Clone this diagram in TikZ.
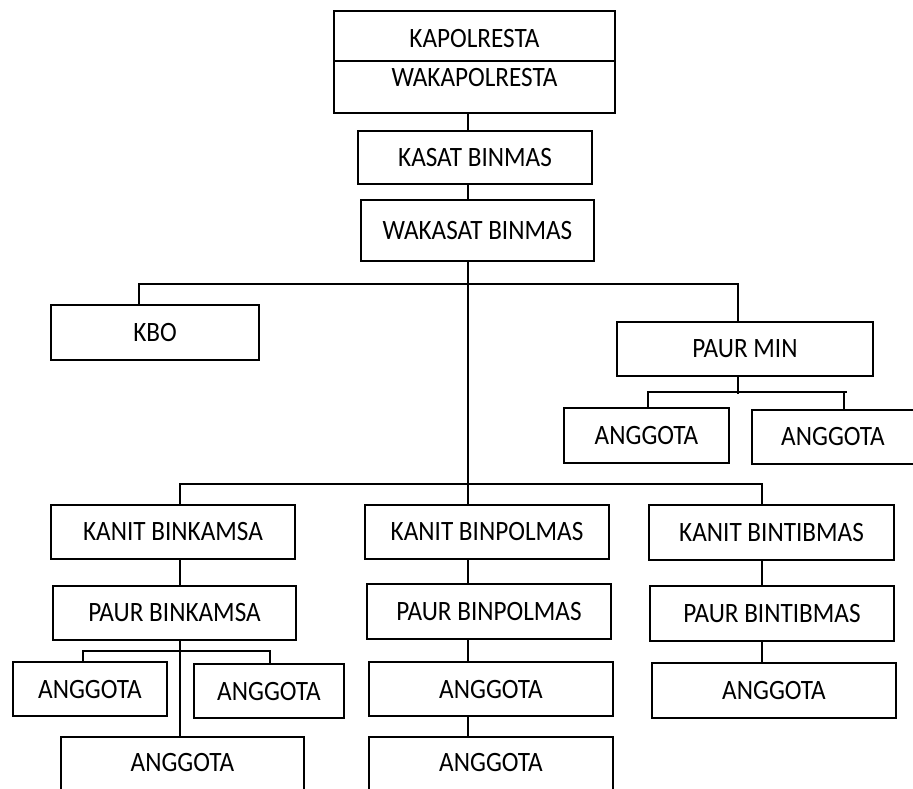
\documentclass[tikz,border=0pt]{standalone}
\usepackage{fontspec}
\setmainfont{Carlito}[FakeStretch=0.9]
\newcommand\bx[6]{\node[box, minimum width={(#3-#2)*1pt}, minimum height={(#5-#4)*1pt}] (#1) at ({(#2+#3)/2},{(#4+#5)/2}) {#6};}
\begin{document}
\begin{tikzpicture}[x=1pt,y=-1pt,
  box/.style={draw, line width=1.7pt, rectangle, inner sep=0pt, font=\fontsize{28}{30}\selectfont},
  lbl/.style={inner sep=0pt, font=\fontsize{28}{30}\selectfont},
  conn/.style={line width=1.7pt}]
\useasboundingbox (0,0) rectangle (913,788);
\fill[white] (0,0) rectangle (913,788);
\clip (0,0) rectangle (913,788);
% top box
\bx{kapol}{334}{615}{11}{113}{}
\node[lbl] (t1) at (474.5,39) {KAPOLRESTA};
\node[lbl] (t2) at (474.5,78) {WAKAPOLRESTA};
\coordinate (dv) at (0,61);
\draw[conn] (kapol.west |- dv) -- (kapol.east |- dv);
\bx{kasat}{358}{592}{131}{184}{KASAT BINMAS}
\bx{wakasat}{361}{594}{200}{261}{WAKASAT BINMAS}
\bx{kbo}{51}{259}{305}{360}{KBO}
\bx{paurmin}{617}{873}{322}{376}{PAUR MIN}
\bx{ang1}{564}{729}{408}{463}{ANGGOTA}
\bx{ang2}{752}{914}{410}{464}{ANGGOTA}
\bx{kanit1}{51}{295}{505}{559}{KANIT BINKAMSA}
\bx{kanit2}{365}{609}{505}{559}{KANIT BINPOLMAS}
\bx{kanit3}{649}{894}{505}{560}{KANIT BINTIBMAS}
\bx{paur1}{53}{296}{586}{640}{PAUR BINKAMSA}
\bx{paur2}{367}{611}{584}{639}{PAUR BINPOLMAS}
\bx{paur3}{650}{894}{586}{641}{PAUR BINTIBMAS}
\bx{a1L}{13}{167}{662}{716}{ANGGOTA}
\bx{a1R}{194}{344}{664}{718}{ANGGOTA}
\bx{a1B}{61}{304}{737}{805}{}
\node[lbl] (a1Bt) at (182.5,762) {ANGGOTA};
\bx{a2}{369}{613}{662}{716}{ANGGOTA}
\bx{a2B}{369}{613}{737}{805}{}
\node[lbl] (a2Bt) at (491,762) {ANGGOTA};
\bx{a3}{652}{896}{663}{718}{ANGGOTA}
% connectors
\coordinate (mx) at (468,0);
\draw[conn] (kapol.south -| mx) -- (kasat.north -| mx);
\draw[conn] (kasat.south -| mx) -- (wakasat.north -| mx);
\coordinate (hbmid) at (468,484);
\draw[conn] (wakasat.south -| mx) -- (hbmid);
\coordinate (haL) at (139,284);
\coordinate (haR) at (738,284);
\draw[conn] (kbo.north -| haL) -- (haL) -- (haR) -- (paurmin.north -| haR);
\coordinate (pmB) at (738,394);
\draw[conn] (paurmin.south -| pmB) -- (pmB);
\coordinate (hpL) at (648,392);
\coordinate (hpR) at (847,392);
\coordinate (hpD) at (844,392);
\draw[conn] (ang1.north -| hpL) -- (hpL) -- (hpR);
\draw[conn] (hpD) -- (ang2.north -| hpD);
\coordinate (hbL) at (180,484);
\coordinate (hbR) at (762,484);
\draw[conn] (kanit1.north -| hbL) -- (hbL) -- (hbR) -- (kanit3.north -| hbR);
\draw[conn] (hbmid) -- (kanit2.north -| hbmid);
\draw[conn] (kanit1.south -| hbL) -- (paur1.north -| hbL);
\draw[conn] (paur1.south -| hbL) -- (a1B.north -| hbL);
\coordinate (hsL) at (83,651);
\coordinate (hsR) at (270,651);
\draw[conn] (a1L.north -| hsL) -- (hsL) -- (hsR) -- (a1R.north -| hsR);
\draw[conn] (kanit2.south -| mx) -- (paur2.north -| mx);
\draw[conn] (paur2.south -| mx) -- (a2.north -| mx);
\draw[conn] (a2.south -| mx) -- (a2B.north -| mx);
\draw[conn] (kanit3.south -| hbR) -- (paur3.north -| hbR);
\draw[conn] (paur3.south -| hbR) -- (a3.north -| hbR);
\end{tikzpicture}
\end{document}
